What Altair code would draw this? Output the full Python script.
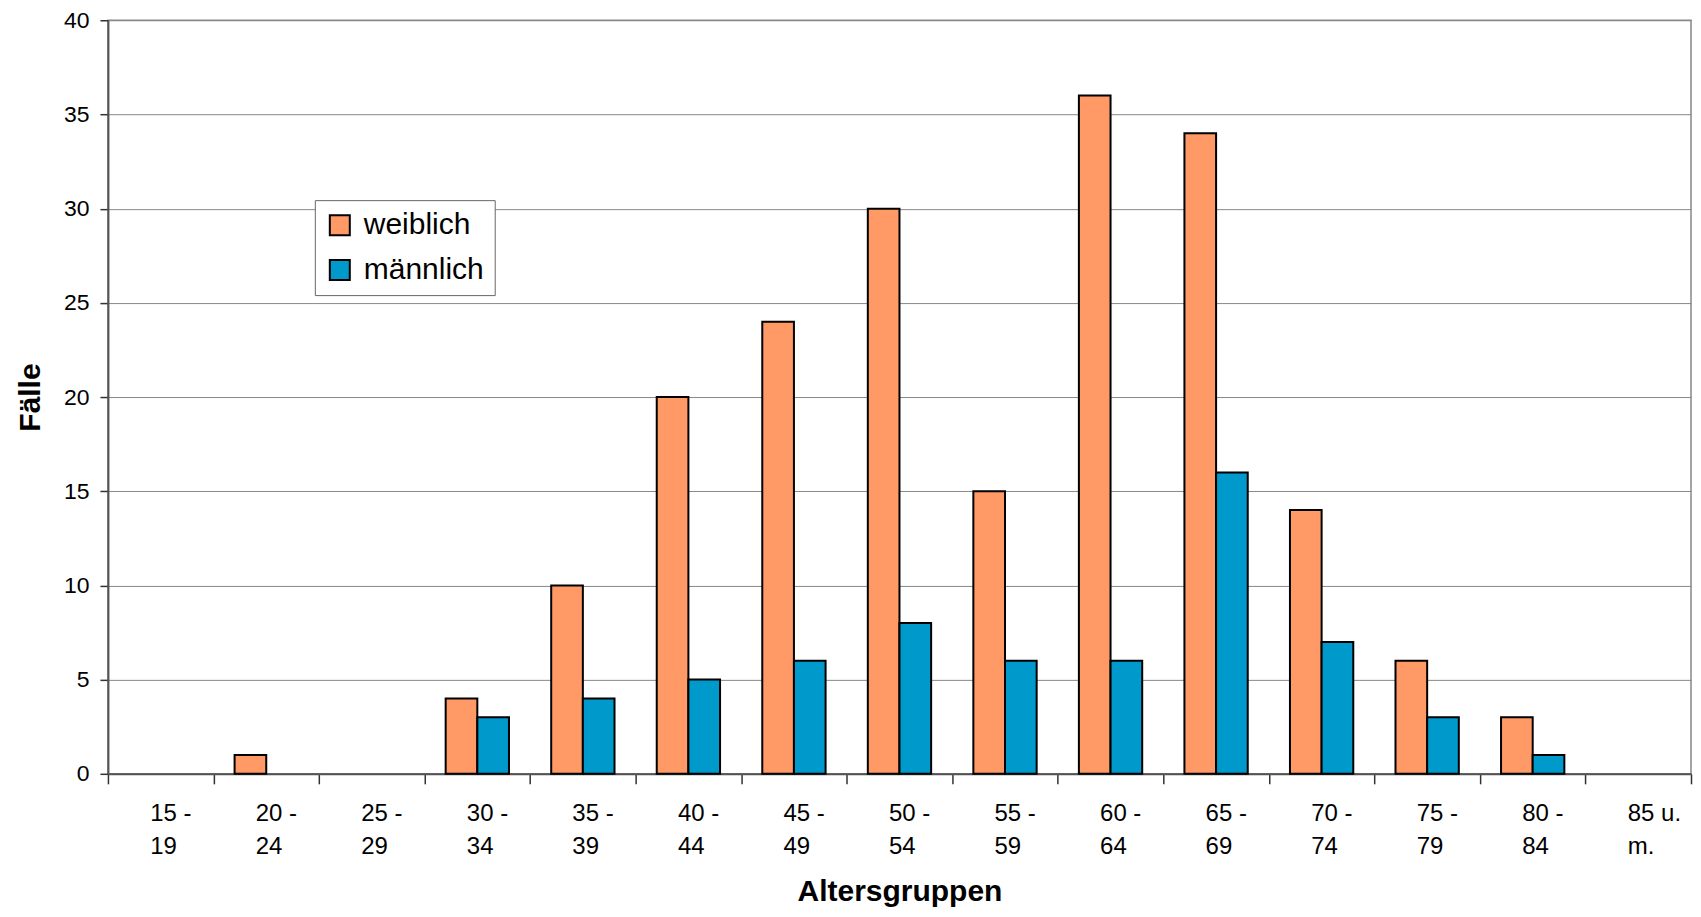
import altair as alt
import pandas as pd

gruppen = ["15 - 19", "20 - 24", "25 - 29", "30 - 34", "35 - 39", "40 - 44", "45 - 49",
           "50 - 54", "55 - 59", "60 - 64", "65 - 69", "70 - 74", "75 - 79", "80 - 84", "85 u. m."]
weiblich = [0, 1, 0, 4, 10, 20, 24, 30, 15, 36, 34, 14, 6, 3, 0]
maennlich = [0, 0, 0, 3, 4, 5, 6, 8, 6, 6, 16, 7, 3, 1, 0]
serien = ["weiblich", "männlich"]
farben = ["#FF9966", "#0099CC"]

rows = []
for g, w, m in zip(gruppen, weiblich, maennlich):
    rows.append({"Altersgruppe": g, "Geschlecht": "weiblich", "Fälle": w})
    rows.append({"Altersgruppe": g, "Geschlecht": "männlich", "Fälle": m})
df = pd.DataFrame(rows)

font = "Liberation Sans"

chart = alt.Chart(df).mark_bar(stroke="black", strokeWidth=2).encode(
    x=alt.X("Altersgruppe:N", sort=gruppen,
            scale=alt.Scale(domain=gruppen, paddingInner=0, paddingOuter=0),
            axis=alt.Axis(title="Altersgruppen", labelAngle=0, tickBand="extent",
                          labelExpr="datum.label == '85 u. m.' ? ['85 u.', 'm.'] : [slice(datum.label, 0, 4), slice(datum.label, 5)]",
                          labelAlign="left", labelOffset=-11,
                          labelFontSize=24, labelLineHeight=33, labelPadding=18,
                          tickSize=10, tickColor="#333333", tickWidth=1.5,
                          domainColor="#555555", domainWidth=2,
                          titleFontSize=30, titleFontWeight="bold", titlePadding=18,
                          labelColor="black", titleColor="black")),
    xOffset=alt.XOffset("Geschlecht:N", sort=serien,
                        scale=alt.Scale(domain=serien, paddingInner=0, paddingOuter=0.667)),
    y=alt.Y("Fälle:Q", scale=alt.Scale(domain=[0, 40]),
            axis=alt.Axis(title="Fälle", values=list(range(0, 41, 5)),
                          labelFontSize=23, labelPadding=11, tickSize=8,
                          tickColor="#333333", tickWidth=1.5,
                          domainColor="#555555", domainWidth=2,
                          gridColor="#888888", gridWidth=1,
                          titleFontSize=30, titleFontWeight="bold", titlePadding=18,
                          labelColor="black", titleColor="black")),
    color=alt.Color("Geschlecht:N", sort=serien,
                    scale=alt.Scale(domain=serien, range=farben),
                    legend=alt.Legend(title=None, orient="none", legendX=207, legendY=180,
                                      symbolType="square", symbolSize=400,
                                      symbolStrokeColor="black", symbolStrokeWidth=2,
                                      labelFontSize=30, labelColor="black", labelOffset=9,
                                      rowPadding=15, padding=10,
                                      strokeColor="#666666", fillColor="white"))
).transform_filter(
    alt.datum["Fälle"] > 0
).properties(
    width=1584, height=754,
    autosize=alt.AutoSizeParams(type="none"),
    padding={"left": 100, "top": 12, "right": 2, "bottom": 135}
).configure(font=font).configure_view(stroke="#888888", strokeWidth=1.5)

chart.save("out.html", embed_options={"renderer": "svg", "actions": False})
